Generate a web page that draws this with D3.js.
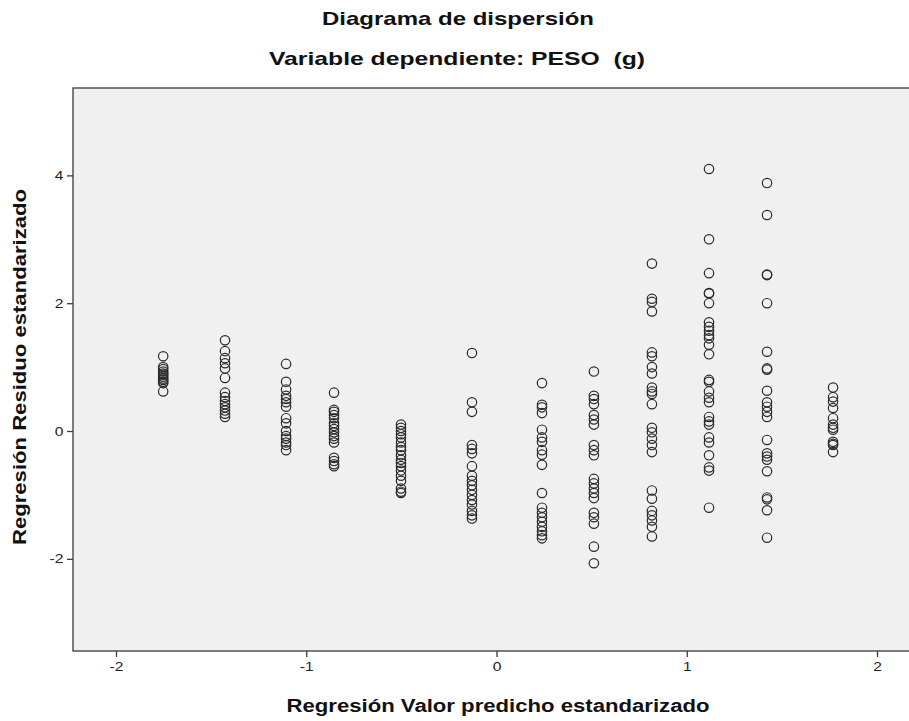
<!DOCTYPE html>
<html>
<head>
<meta charset="utf-8">
<script src="https://cdn.jsdelivr.net/npm/d3@7"></script>
<style>
  html, body { margin: 0; padding: 0; background: #ffffff; }
  svg { display: block; }
  text { font-family: "Liberation Sans", Arial, sans-serif; white-space: pre; }
</style>
</head>
<body>
<div id="chart"></div>
<script>
// ---- Data ----
const titleText = "Diagrama de dispersión";
const subtitleText = "Variable dependiente: PESO  (g)";
const xLabel = "Regresión Valor predicho estandarizado";
const yLabel = "Regresión Residuo estandarizado";

const xTicks = [-2, -1, 0, 1, 2];
const yTicks = [-2, 0, 2, 4];

// standardized predicted value of each vertical group
const predicted = [-1.752, -1.427, -1.106, -0.854, -0.502, -0.129, 0.239, 0.512, 0.817, 1.117, 1.422, 1.769];

// standardized residuals in each group
const res1 = [1.17, 1.0, 0.97, 0.93, 0.9, 0.88, 0.85, 0.82, 0.8, 0.77, 0.75, 0.62];
const res2 = [1.42, 1.25, 1.14, 1.06, 0.98, 0.83, 0.6, 0.53, 0.47, 0.42, 0.37, 0.32, 0.27, 0.22];
const res3 = [1.05, 0.77, 0.65, 0.55, 0.5, 0.45, 0.38, 0.2, 0.12, 0.0, -0.08, -0.12, -0.18, -0.22, -0.3];
const res4 = [0.6, 0.33, 0.3, 0.25, 0.2, 0.12, 0.08, 0.03, -0.02, -0.08, -0.12, -0.18, -0.42, -0.47, -0.52, -0.55];
const res5 = [0.1, 0.05, 0.0, -0.05, -0.1, -0.18, -0.25, -0.3, -0.38, -0.45, -0.5, -0.55, -0.62, -0.7, -0.78, -0.9, -0.95, -0.97];
const res6 = [1.22, 0.45, 0.3, -0.22, -0.28, -0.35, -0.55, -0.7, -0.78, -0.85, -0.92, -1.0, -1.08, -1.15, -1.25, -1.32, -1.37];
const res7 = [0.75, 0.41, 0.37, 0.28, 0.02, -0.1, -0.17, -0.3, -0.37, -0.53, -0.97, -1.2, -1.28, -1.35, -1.42, -1.5, -1.57, -1.63, -1.68];
const res8 = [0.93, 0.55, 0.5, 0.42, 0.25, 0.18, 0.1, -0.22, -0.3, -0.38, -0.75, -0.82, -0.9, -0.97, -1.05, -1.28, -1.35, -1.45, -1.81, -2.07];
const res9 = [2.62, 2.07, 2.02, 1.87, 1.23, 1.17, 1.0, 0.9, 0.68, 0.62, 0.58, 0.42, 0.05, -0.02, -0.12, -0.22, -0.33, -0.93, -1.06, -1.25, -1.32, -1.4, -1.5, -1.65];
const res10 = [4.1, 3.0, 2.47, 2.16, 2.15, 2.0, 1.7, 1.63, 1.57, 1.5, 1.45, 1.35, 1.2, 0.8, 0.77, 0.62, 0.52, 0.45, 0.22, 0.15, 0.1, -0.1, -0.18, -0.38, -0.57, -0.62, -1.2];
const res11 = [3.88, 3.38, 2.45, 2.44, 2.0, 1.24, 0.98, 0.96, 0.63, 0.45, 0.38, 0.3, 0.22, -0.14, -0.35, -0.4, -0.45, -0.63, -1.04, -1.07, -1.24, -1.67];
const res12 = [0.68, 0.53, 0.46, 0.36, 0.2, 0.1, 0.05, 0.02, -0.17, -0.2, -0.22, -0.33];

const residualGroups = [res1, res2, res3, res4, res5, res6, res7, res8, res9, res10, res11, res12];

// Build point table from the arrays
const points = [];
residualGroups.forEach((grp, i) => grp.forEach(r => points.push({ x: predicted[i], y: r })));

// ---- Layout ----
const W = 909, H = 721;
const frame = { left: 73, right: 911, top: 88, bottom: 651 };

const x = d3.scaleLinear().domain([-2, 2]).range([116, 877]);
const y = d3.scaleLinear().domain([-2, 4]).range([558.8, 175.4]);

const svg = d3.select("#chart").append("svg")
  .attr("width", W).attr("height", H);

svg.append("rect").attr("x", 0).attr("y", 0).attr("width", W).attr("height", H).attr("fill", "#ffffff");

// plot background + frame
svg.append("rect")
  .attr("x", frame.left).attr("y", frame.top)
  .attr("width", frame.right - frame.left).attr("height", frame.bottom - frame.top)
  .attr("fill", "#f0f0f0")
  .attr("stroke", "#3a3a3a").attr("stroke-width", 1.3);

function label(sel, txt, len, size) {
  return sel.append("text")
    .attr("text-anchor", "middle").attr("font-size", size).attr("font-weight", "bold")
    .attr("fill", "#111")
    .attr("textLength", len).attr("lengthAdjust", "spacingAndGlyphs")
    .text(txt);
}

// titles
label(svg, titleText, 272, 19).attr("x", 458).attr("y", 25);
label(svg, subtitleText, 376, 19).attr("x", 457).attr("y", 65);

// axes
const xAxis = svg.append("g").attr("transform", `translate(0,${frame.bottom})`)
  .call(d3.axisBottom(x).tickValues(xTicks).tickSize(6).tickPadding(5).tickFormat(d3.format("d")));
const yAxis = svg.append("g").attr("transform", `translate(${frame.left},0)`)
  .call(d3.axisLeft(y).tickValues(yTicks).tickSize(6).tickPadding(2).tickFormat(d3.format("d")));

[xAxis, yAxis].forEach(g => {
  g.select(".domain").remove();
  g.selectAll(".tick line").attr("stroke", "#3a3a3a").attr("stroke-width", 1.3);
  g.selectAll(".tick text").attr("font-size", 13).attr("fill", "#222")
    .attr("font-family", "'Liberation Sans', Arial, sans-serif");
});
xAxis.selectAll(".tick text").text(d => String(d)).attr("transform", "scale(1.2,1)");
yAxis.selectAll(".tick text").text(d => String(d)).attr("transform", "scale(1.2,1)");

// axis labels
label(svg, xLabel, 423, 18).attr("x", 498).attr("y", 712);
label(svg, yLabel, 356, 18)
  .attr("transform", `translate(26,367) rotate(-90)`);

// points
svg.append("g").selectAll("circle").data(points).enter().append("circle")
  .attr("cx", d => x(d.x)).attr("cy", d => y(d.y)).attr("r", 4.7)
  .attr("fill", "none").attr("stroke", "#2a2a2a").attr("stroke-width", 1.2);
</script>
</body>
</html>
